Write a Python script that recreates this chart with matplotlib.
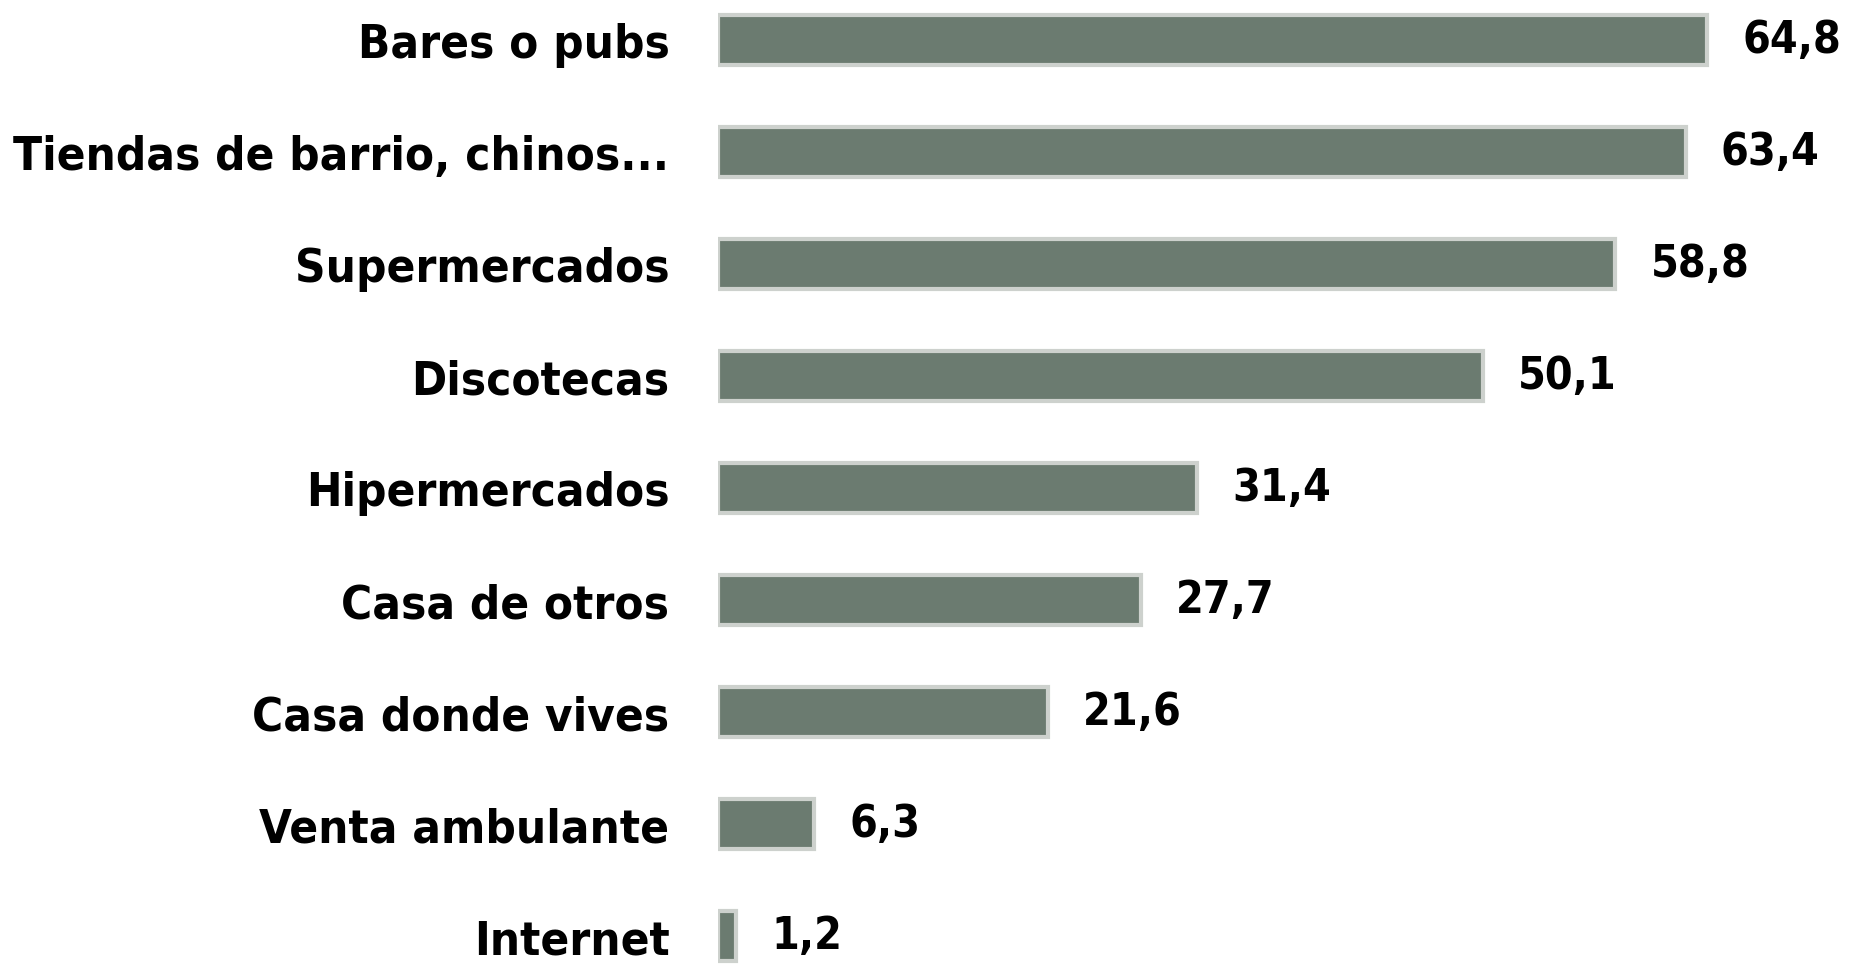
import matplotlib.pyplot as plt

categorias = ["Bares o pubs", "Tiendas de barrio, chinos...", "Supermercados",
              "Discotecas", "Hipermercados", "Casa de otros", "Casa donde vives",
              "Venta ambulante", "Internet"]
valores = [64.8, 63.4, 58.8, 50.1, 31.4, 27.7, 21.6, 6.3, 1.2]

fig = plt.figure(figsize=(18.55, 9.7), dpi=100)
ax = fig.add_axes([718 / 1855, 0, 1 - 718 / 1855, 1])

pos = list(range(len(categorias)))
ax.barh(pos, valores, height=0.44, color="#6b7b70",
        edgecolor="#cdd1cd", linewidth=3)

estilo = dict(fontweight="bold", family="DejaVu Sans",
              fontstretch="condensed", color="black")
for p, v in zip(pos, valores):
    ax.text(v + 2.3, p, f"{v:.1f}".replace(".", ","), va="center", ha="left",
            fontsize=32, **estilo)

ax.set_yticks(pos)
ax.set_yticklabels(categorias, fontsize=34, **estilo)
ax.tick_params(axis="y", length=0, pad=35)
ax.set_xticks([])
ax.set_xlim(0, 74.5)
ax.set_ylim(8.295, -0.366)
for s in ax.spines.values():
    s.set_visible(False)

fig.savefig("out.png", dpi=100)
